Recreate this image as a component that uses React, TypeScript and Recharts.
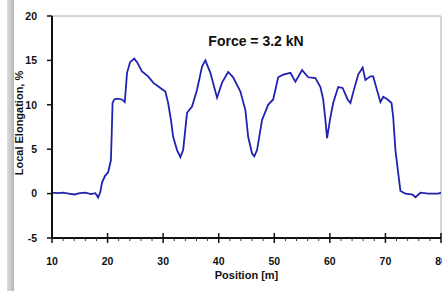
import React from 'react';
import { LineChart, Line, XAxis, YAxis, ReferenceLine, Label } from 'recharts';

const positions = [10, 11, 12, 13, 14, 15, 16, 17, 17.8, 18.3, 18.7, 19.0, 19.55, 20.1, 20.6, 20.75, 20.9, 21.2, 21.7, 22.6, 23.1, 23.5, 24.05, 24.8, 25.3, 26.2, 27.3, 28.2, 29.5, 30.4, 30.9, 31.4, 31.8, 32.5, 33.1, 33.6, 34.3, 35.2, 36.1, 37.0, 37.6, 38.5, 39.7, 40.6, 41.7, 42.6, 43.9, 44.8, 45.3, 46.0, 46.4, 46.9, 47.8, 48.9, 49.8, 50.7, 51.6, 52.9, 53.8, 55.0, 56.1, 57.4, 58.3, 58.8, 59.2, 59.5, 60.1, 60.6, 61.5, 62.3, 63.2, 63.7, 64.2, 65.1, 65.9, 66.4, 67.3, 67.8, 68.6, 69.1, 69.6, 70.4, 71.1, 71.4, 71.8, 72.3, 72.7, 73.6, 74.9, 75.4, 76.3, 77.7, 79.5, 80];
const elongation = [0.1, 0.05, 0.1, 0, -0.1, 0.05, 0.1, -0.05, 0.05, -0.45, 0.2, 1.25, 2.0, 2.4, 3.75, 6.8, 10.2, 10.6, 10.7, 10.6, 10.3, 13.6, 14.8, 15.2, 14.8, 13.75, 13.2, 12.5, 11.9, 11.5, 10.2, 8.3, 6.4, 4.9, 4.1, 4.9, 9.1, 9.8, 11.7, 14.3, 15.0, 13.6, 10.8, 12.5, 13.7, 13.1, 11.5, 9.4, 6.4, 4.5, 4.2, 4.9, 8.3, 10.0, 10.6, 13.1, 13.4, 13.6, 12.6, 13.9, 13.1, 13.0, 12.0, 10.6, 8.3, 6.25, 8.6, 10.2, 12.0, 11.9, 10.6, 10.2, 11.4, 13.4, 14.2, 12.8, 13.2, 13.2, 11.4, 10.3, 10.9, 10.6, 10.2, 8.6, 4.9, 2.3, 0.3, 0.0, -0.1, -0.4, 0.1, 0, 0, 0.1];

const xTicks = [10, 12, 14, 16, 18, 20, 22, 24, 26, 28, 30, 32, 34, 36, 38, 40, 42, 44, 46, 48, 50, 52, 54, 56, 58, 60, 62, 64, 66, 68, 70, 72, 74, 76, 78, 80];
const yTicks = [-5, 0, 5, 10, 15, 20];
const title = 'Force = 3.2 kN';
const xLabel = 'Position [m]';
const yLabel = 'Local Elongation, %';

const data = positions.map((p, i) => ({ pos: p, val: elongation[i] }));

const FONT = '"Liberation Sans", Arial, sans-serif';

const XTick = (props: any) => {
  const { x, y, payload } = props;
  const v = payload.value;
  const major = v % 10 === 0;
  return (
    <g>
      {major ? (
        <line x1={x} x2={x} y1={y - 5} y2={y + 5} stroke="#111" strokeWidth={1.5} />
      ) : (
        <line x1={x} x2={x} y1={y} y2={y + 3} stroke="#333" strokeWidth={1} />
      )}
      {major && (
        <text x={x} y={y + 27} textAnchor="middle" fontFamily={FONT} fontWeight="bold" fontSize={10.5} fill="#111">
          {v}
        </text>
      )}
    </g>
  );
};

export default function App() {
  return (
    <div style={{ position: 'absolute', left: 0, top: 0, width: 442, height: 295, background: '#fff', overflow: 'hidden' }}>
      <div style={{ position: 'absolute', left: 7, top: 0, width: 7, height: 291, background: 'linear-gradient(to right, #dcdcdc, #c4c4c4 70%, #b0b0b0)' }} />
      <div style={{ position: 'absolute', left: 0, top: 0 }}>
        <LineChart width={442} height={295} data={data} margin={{ top: 16, right: 1, left: 0, bottom: 0 }}>
          <XAxis
            dataKey="pos"
            type="number"
            domain={[10, 80]}
            ticks={xTicks}
            interval={0}
            height={57}
            tickSize={0}
            tickMargin={0}
            tickLine={false}
            axisLine={{ stroke: '#111', strokeWidth: 2 }}
            tick={<XTick />}
          >
            <Label value={xLabel} position="center" dy={9} style={{ fontFamily: FONT, fontWeight: 'bold', fontSize: 11, fill: '#111' }} />
          </XAxis>
          <YAxis
            type="number"
            domain={[-5, 20]}
            ticks={yTicks}
            interval={0}
            width={52}
            tickSize={5}
            tickMargin={10}
            tickLine={{ stroke: '#111', strokeWidth: 1.5 }}
            axisLine={{ stroke: '#111', strokeWidth: 2 }}
            tick={{ fontFamily: FONT, fontWeight: 'bold', fontSize: 10.5, fill: '#111' }}
          >
            <Label value={yLabel} position="center" angle={-90} dx={-7} dy={-4} style={{ fontFamily: FONT, fontWeight: 'bold', fontSize: 11, fill: '#111' }} />
          </YAxis>
          <ReferenceLine y={20} stroke="#aaaaaa" strokeWidth={1} />
          <ReferenceLine x={80} stroke="#aaaaaa" strokeWidth={1} />
          <Line type="linear" dataKey="val" stroke="#2222b0" strokeWidth={1.8} dot={false} isAnimationActive={false} />
        </LineChart>
      </div>
      <div style={{ position: 'absolute', left: 196, top: 33, width: 120, textAlign: 'center', fontFamily: FONT, fontWeight: 'bold', fontSize: 14, color: '#111', whiteSpace: 'nowrap' }}>
        {title}
      </div>
    </div>
  );
}
